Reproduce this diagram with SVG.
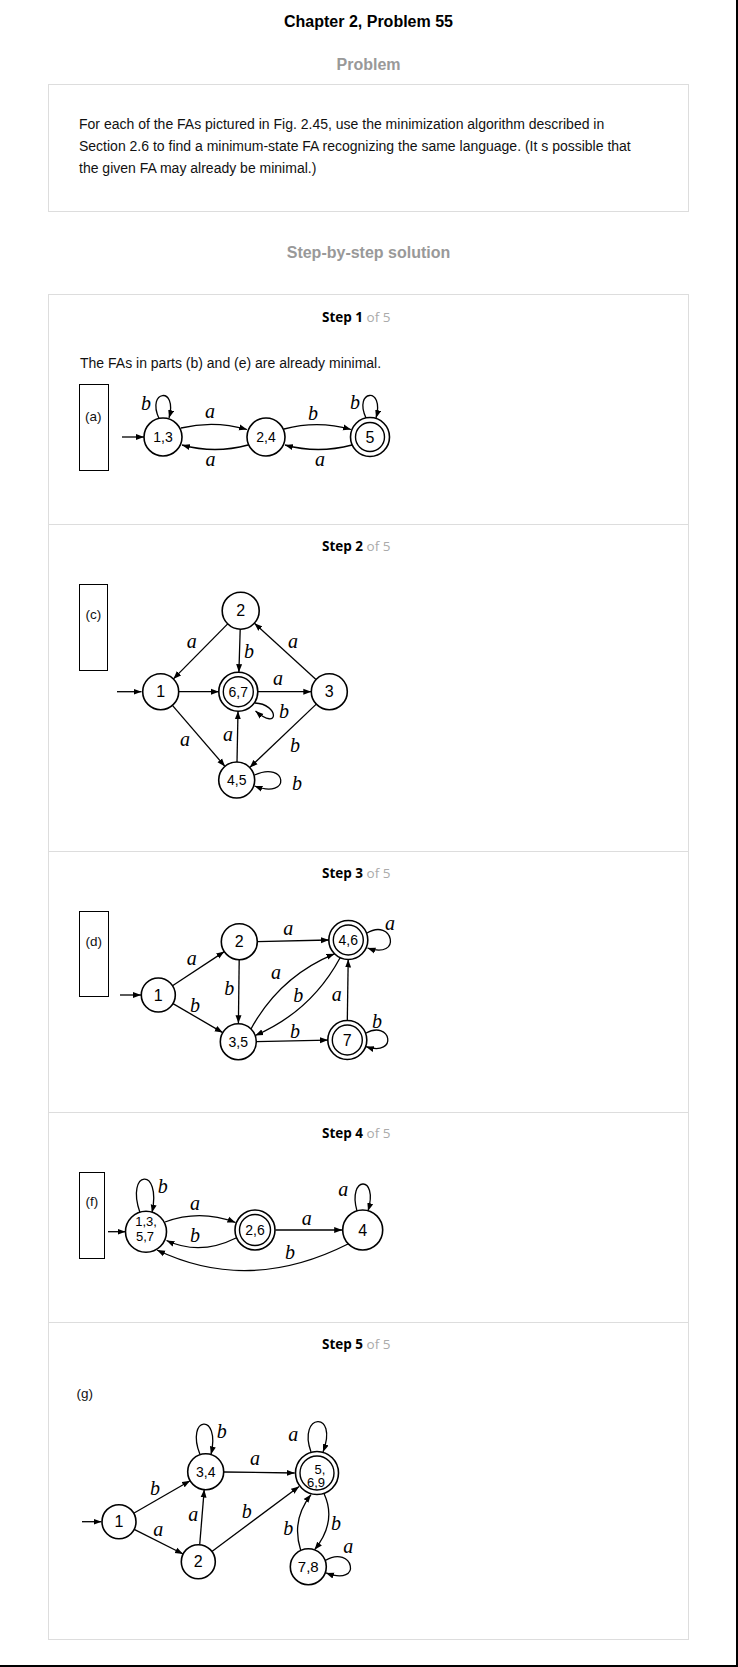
<svg xmlns="http://www.w3.org/2000/svg" width="738" height="1667" viewBox="0 0 738 1667">
<style>
.title{font-family:"Liberation Sans",Arial,sans-serif;font-weight:bold;font-size:16px;fill:#000;text-anchor:middle}
.sub{font-family:"Liberation Sans",Arial,sans-serif;font-weight:bold;font-size:16px;fill:#999;text-anchor:middle}
.body{font-family:"Liberation Sans",Arial,sans-serif;font-size:14px;fill:#111}
.step{font-family:"Open Sans","Liberation Sans",sans-serif;font-size:13.5px;fill:#000;font-weight:bold}
.of{font-weight:normal;fill:#aaa}
.tag{font-family:"Liberation Sans",Arial,sans-serif;font-size:13.5px;fill:#111}
.box{fill:none;stroke:#ddd;stroke-width:1}
.tagbox{fill:none;stroke:#000;stroke-width:1}
.st{fill:#fff;stroke:#000;stroke-width:1.6}
.in{fill:none;stroke:#000;stroke-width:1.4}
.nd{font-family:"Liberation Sans",Arial,sans-serif;font-size:14px;fill:#000;text-anchor:middle}
.n1{font-size:16px}
.e{fill:none;stroke:#000;stroke-width:1.3;marker-end:url(#ah)}
.lbl{font-family:"Liberation Serif","Times New Roman",serif;font-style:italic;font-size:20px;fill:#000;text-anchor:middle}
</style>
<defs>
<marker id="ah" markerUnits="userSpaceOnUse" markerWidth="9" markerHeight="7" refX="8" refY="3.5" orient="auto">
<path d="M0,0.5 L8,3.5 L0,6.5 z" fill="#000"/>
</marker>
</defs>
<rect width="738" height="1667" fill="#fff"/>
<line x1="737" y1="0" x2="737" y2="1667" stroke="#000" stroke-width="2"/>
<line x1="0" y1="1666" x2="738" y2="1666" stroke="#000" stroke-width="2"/>

<g id="header">
<text class="title" x="368.5" y="27">Chapter 2, Problem 55</text>
<text class="sub" x="368.5" y="70">Problem</text>
<rect class="box" x="48.5" y="84.5" width="640" height="127"/>
<text class="body" x="79" y="128.5">For each of the FAs pictured in Fig. 2.45, use the minimization algorithm described in</text>
<text class="body" x="79" y="151">Section 2.6 to find a minimum-state FA recognizing the same language. (It s possible that</text>
<text class="body" x="79" y="173">the given FA may already be minimal.)</text>
<text class="sub" x="368.5" y="258">Step-by-step solution</text>
</g>

<g id="steps-frame">
<rect class="box" x="48.5" y="294.5" width="640" height="1345"/>
<line class="box" x1="48.5" y1="524.5" x2="688.5" y2="524.5"/>
<line class="box" x1="48.5" y1="851.5" x2="688.5" y2="851.5"/>
<line class="box" x1="48.5" y1="1112.5" x2="688.5" y2="1112.5"/>
<line class="box" x1="48.5" y1="1322.5" x2="688.5" y2="1322.5"/>
</g>

<!-- STEP 1 -->
<g id="step1">
<text class="step" x="322" y="321.5">Step 1 <tspan class="of">of 5</tspan></text>
<text class="body" x="80" y="368">The FAs in parts (b) and (e) are already minimal.</text>
<rect class="tagbox" x="79.5" y="384.5" width="29" height="86"/>
<text class="tag" x="85" y="420.5">(a)</text>
</g>
<g id="a-connectors">
<line class="e" x1="122" y1="437" x2="144" y2="437"/>
<path class="e" d="M181,428 Q214,420 247,429.5"/>
<path class="e" d="M248,445 Q215,454 182,445"/>
<path class="e" d="M284,429 Q318,420 351,429.5"/>
<path class="e" d="M352,445 Q318,454 285,445"/>
<path class="e" d="M159,418.5 C146,390 178,386 169,418"/>
<path class="e" d="M366,418 C353,390 385,386 376,418"/>
<text class="lbl" x="146" y="410">b</text>
<text class="lbl" x="210" y="418">a</text>
<text class="lbl" x="210.5" y="466">a</text>
<text class="lbl" x="313" y="420">b</text>
<text class="lbl" x="320" y="466">a</text>
<text class="lbl" x="355" y="409">b</text>
</g>
<g id="a-n13"><circle class="st" cx="163" cy="437" r="19"/><text class="nd" x="163" y="442">1,3</text></g>
<g id="a-n24"><circle class="st" cx="266" cy="437" r="19"/><text class="nd" x="266" y="442">2,4</text></g>
<g id="a-n5"><circle class="st" cx="370" cy="437" r="19.5"/><circle class="in" cx="370" cy="437" r="14.5"/><text class="nd n1" x="370" y="442.5">5</text></g>

<!-- STEP 2 -->
<g id="step2">
<text class="step" x="322" y="550.5">Step 2 <tspan class="of">of 5</tspan></text>
<rect class="tagbox" x="79.5" y="584.5" width="28" height="86"/>
<text class="tag" x="85.5" y="619">(c)</text>
</g>
<g id="c-connectors">
<line class="e" x1="117" y1="691.7" x2="141.5" y2="691.7"/>
<line class="e" x1="227.7" y1="623.9" x2="173.4" y2="678.9"/>
<line class="e" x1="240.2" y1="629.2" x2="238.9" y2="672.2"/>
<line class="e" x1="316" y1="679.5" x2="254.4" y2="623.2"/>
<line class="e" x1="178.7" y1="691.7" x2="218.8" y2="691.7"/>
<line class="e" x1="257.8" y1="691.7" x2="311.3" y2="691.7"/>
<path class="e" d="M255,703 C279,704 280,732 255.5,711"/>
<line class="e" x1="172.4" y1="705.3" x2="225" y2="766.4"/>
<line class="e" x1="237" y1="762" x2="238" y2="711.2"/>
<line class="e" x1="316.3" y1="704.1" x2="249.7" y2="767.6"/>
<path class="e" d="M254.5,775 C287,760 292,800 254.5,786"/>
<text class="lbl" x="191.7" y="647.5">a</text>
<text class="lbl" x="249" y="658">b</text>
<text class="lbl" x="278" y="685">a</text>
<text class="lbl" x="293" y="647.5">a</text>
<text class="lbl" x="284" y="718">b</text>
<text class="lbl" x="185" y="746">a</text>
<text class="lbl" x="228" y="741">a</text>
<text class="lbl" x="295" y="751.5">b</text>
<text class="lbl" x="297" y="790">b</text>
</g>
<g id="c-n2"><circle class="st" cx="240.7" cy="610.7" r="18.5"/><text class="nd n1" x="240.7" y="616.2">2</text></g>
<g id="c-n1"><circle class="st" cx="160.7" cy="691.7" r="18"/><text class="nd n1" x="160.7" y="697.2">1</text></g>
<g id="c-n67"><circle class="st" cx="238.3" cy="691.7" r="19.5"/><circle class="in" cx="238.3" cy="691.7" r="15"/><text class="nd" x="238.3" y="696.7">6,7</text></g>
<g id="c-n3"><circle class="st" cx="329.3" cy="691.7" r="18"/><text class="nd n1" x="329.3" y="697.2">3</text></g>
<g id="c-n45"><circle class="st" cx="236.7" cy="780" r="18"/><text class="nd" x="236.7" y="785">4,5</text></g>

<!-- STEP 3 -->
<g id="step3">
<text class="step" x="322" y="877.5">Step 3 <tspan class="of">of 5</tspan></text>
<rect class="tagbox" x="79.5" y="911.5" width="29" height="85"/>
<text class="tag" x="85.5" y="945.5">(d)</text>
</g>
<g id="d-connectors">
<line class="e" x1="120" y1="995" x2="141" y2="995"/>
<line class="e" x1="172.5" y1="985.7" x2="224.3" y2="951.6"/>
<line class="e" x1="173" y1="1003.6" x2="222.7" y2="1032.6"/>
<line class="e" x1="257.3" y1="941.6" x2="329" y2="940"/>
<line class="e" x1="239.2" y1="959.7" x2="238.4" y2="1023.2"/>
<path class="e" d="M251,1029 Q279.4,976.5 334.5,953.8"/>
<path class="e" d="M340.1,957.7 Q311.2,1011.3 255.2,1035.5"/>
<line class="e" x1="256.3" y1="1041.6" x2="328" y2="1040.1"/>
<line class="e" x1="347.3" y1="1021" x2="348.2" y2="959.5"/>
<path class="e" d="M366.6,933.3 C393,917 403,960 367.5,948"/>
<path class="e" d="M365.6,1033.3 C391,1019 399,1057 366,1046.7"/>
<text class="lbl" x="191.7" y="964.5">a</text>
<text class="lbl" x="195" y="1011.5">b</text>
<text class="lbl" x="288.3" y="935">a</text>
<text class="lbl" x="229.3" y="995">b</text>
<text class="lbl" x="276" y="978.5">a</text>
<text class="lbl" x="298.3" y="1002">b</text>
<text class="lbl" x="295" y="1037.5">b</text>
<text class="lbl" x="336.7" y="1001">a</text>
<text class="lbl" x="390" y="929.5">a</text>
<text class="lbl" x="377" y="1028">b</text>
</g>
<g id="d-n1"><circle class="st" cx="158.3" cy="995" r="17"/><text class="nd n1" x="158.3" y="1000.5">1</text></g>
<g id="d-n2"><circle class="st" cx="239.3" cy="941.7" r="18"/><text class="nd n1" x="239.3" y="947.2">2</text></g>
<g id="d-n46"><circle class="st" cx="348.3" cy="940" r="19.5"/><circle class="in" cx="348.3" cy="940" r="15"/><text class="nd" x="348.3" y="945">4,6</text></g>
<g id="d-n35"><circle class="st" cx="238.3" cy="1041.7" r="18"/><text class="nd" x="238.3" y="1046.7">3,5</text></g>
<g id="d-n7"><circle class="st" cx="347.3" cy="1040" r="19.5"/><circle class="in" cx="347.3" cy="1040" r="15"/><text class="nd n1" x="347.3" y="1045.5">7</text></g>

<!-- STEP 4 -->
<g id="step4">
<text class="step" x="322" y="1137.5">Step 4 <tspan class="of">of 5</tspan></text>
<rect class="tagbox" x="79.5" y="1172.5" width="25" height="86"/>
<text class="tag" x="85.5" y="1205.5">(f)</text>
</g>
<g id="f-connectors">
<line class="e" x1="108" y1="1231.7" x2="125.5" y2="1231.7"/>
<path class="e" d="M140,1212.6 C125,1170 162,1166 152,1212.6"/>
<path class="e" d="M165,1222 Q200,1209 235.5,1222.5"/>
<path class="e" d="M236,1238 Q200,1256 166.5,1240.5"/>
<line class="e" x1="275.5" y1="1230" x2="342.2" y2="1230"/>
<path class="e" d="M357,1211 C347,1176 379,1174 368,1211"/>
<path class="e" d="M348,1244 Q249,1294 157,1250"/>
<text class="lbl" x="162.7" y="1193">b</text>
<text class="lbl" x="195" y="1210">a</text>
<text class="lbl" x="195" y="1242">b</text>
<text class="lbl" x="306.7" y="1225">a</text>
<text class="lbl" x="343.3" y="1196">a</text>
<text class="lbl" x="290" y="1259">b</text>
</g>
<g id="f-n1357"><circle class="st" cx="146" cy="1231.7" r="20.5"/><text class="nd" x="146" y="1225.5" style="font-size:13px">1,3,</text><text class="nd" x="145" y="1241" style="font-size:13px">5,7</text></g>
<g id="f-n26"><circle class="st" cx="255" cy="1230" r="20"/><circle class="in" cx="255" cy="1230" r="15.5"/><text class="nd" x="255" y="1235">2,6</text></g>
<g id="f-n4"><circle class="st" cx="362.7" cy="1230" r="20"/><text class="nd n1" x="362.7" y="1235.5">4</text></g>

<!-- STEP 5 -->
<g id="step5">
<text class="step" x="322" y="1348.5">Step 5 <tspan class="of">of 5</tspan></text>
<text class="tag" x="76.5" y="1398">(g)</text>
</g>
<g id="g-connectors">
<line class="e" x1="82" y1="1521.7" x2="101.5" y2="1521.7"/>
<line class="e" x1="133.7" y1="1513.2" x2="190.1" y2="1480.7"/>
<line class="e" x1="134.2" y1="1529.4" x2="183.1" y2="1554"/>
<line class="e" x1="199.7" y1="1544.8" x2="204.2" y2="1489.6"/>
<path class="e" d="M200,1454.6 C185,1416 221,1412 211,1454.5"/>
<line class="e" x1="223.7" y1="1472" x2="294.7" y2="1473"/>
<line class="e" x1="211.9" y1="1551.5" x2="299.1" y2="1486.5"/>
<path class="e" d="M311,1452 C297,1413 339,1410 323,1452"/>
<path class="e" d="M300.7,1550.4 Q291,1520 311,1494.6"/>
<path class="e" d="M324.2,1494 Q337,1522 314.5,1549.8"/>
<path class="e" d="M325.2,1560.5 C353,1544 364,1587 326,1572.9"/>
<text class="lbl" x="155" y="1494.5">b</text>
<text class="lbl" x="158.3" y="1536">a</text>
<text class="lbl" x="193.3" y="1521">a</text>
<text class="lbl" x="221.7" y="1438">b</text>
<text class="lbl" x="255" y="1464.5">a</text>
<text class="lbl" x="246.7" y="1518">b</text>
<text class="lbl" x="293.3" y="1441">a</text>
<text class="lbl" x="288.3" y="1534.5">b</text>
<text class="lbl" x="336" y="1529.5">b</text>
<text class="lbl" x="348.3" y="1552.5">a</text>
</g>
<g id="g-n1"><circle class="st" cx="119" cy="1521.7" r="17"/><text class="nd n1" x="119" y="1527.2">1</text></g>
<g id="g-n34"><circle class="st" cx="205.7" cy="1471.7" r="18"/><text class="nd" x="205.7" y="1476.7">3,4</text></g>
<g id="g-n2"><circle class="st" cx="198.3" cy="1561.7" r="17"/><text class="nd n1" x="198.3" y="1567.2">2</text></g>
<g id="g-n569"><circle class="st" cx="317" cy="1473" r="21.5"/><circle class="in" cx="317" cy="1473" r="17"/><text class="nd" x="320" y="1474" style="font-size:13px">5,</text><text class="nd" x="316" y="1487" style="font-size:13px">6,9</text></g>
<g id="g-n78"><circle class="st" cx="308.3" cy="1566.7" r="18"/><text class="nd" x="308.3" y="1572" style="font-size:15px">7,8</text></g>
</svg>
